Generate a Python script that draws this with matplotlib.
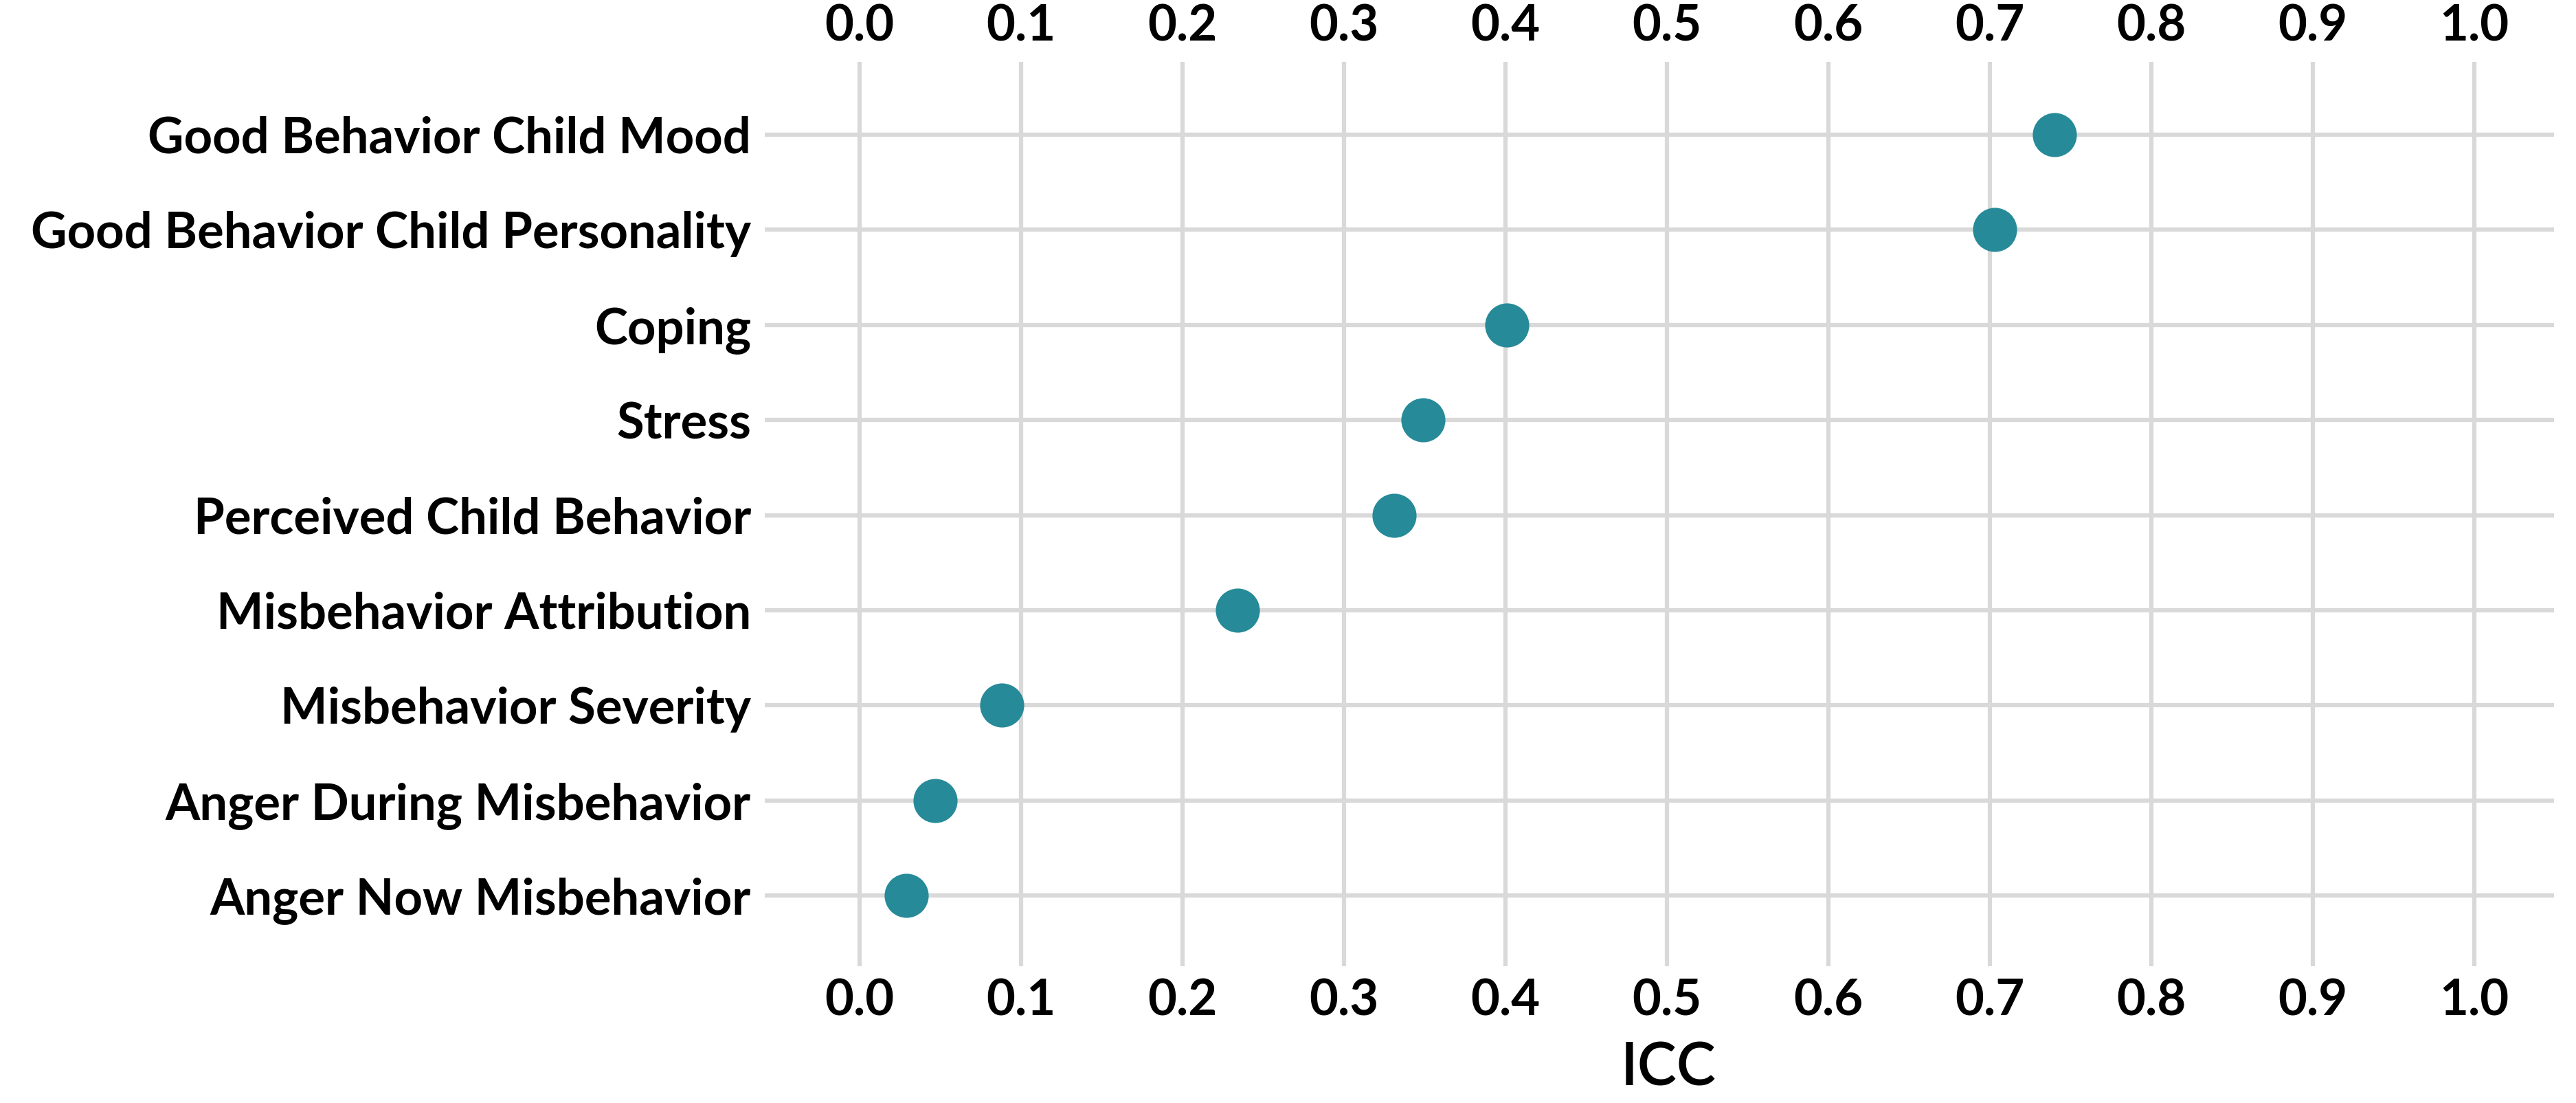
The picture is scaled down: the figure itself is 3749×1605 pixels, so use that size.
import matplotlib
matplotlib.use("Agg")
import matplotlib.pyplot as plt

categories = [
    "Anger Now Misbehavior",
    "Anger During Misbehavior",
    "Misbehavior Severity",
    "Misbehavior Attribution",
    "Perceived Child Behavior",
    "Stress",
    "Coping",
    "Good Behavior Child Personality",
    "Good Behavior Child Mood",
]
icc = [0.029, 0.047, 0.088, 0.234, 0.331, 0.349, 0.401, 0.703, 0.740]
xticks = [0.0, 0.1, 0.2, 0.3, 0.4, 0.5, 0.6, 0.7, 0.8, 0.9, 1.0]
xticklabels = ["0.0", "0.1", "0.2", "0.3", "0.4", "0.5", "0.6", "0.7", "0.8", "0.9", "1.0"]

W, H, DPI = 3749, 1605, 300
plt.rcParams['font.family'] = ['Lato', 'DejaVu Sans']
fig = plt.figure(figsize=(W / DPI, H / DPI), dpi=DPI)
fig.patch.set_facecolor('white')

L, R, T, B = 1113, 3717, 90, 1406
ax = fig.add_axes([L / W, 1 - B / H, (R - L) / W, (B - T) / H])

ypos = list(range(len(categories)))
ax.plot(icc, ypos, 'o', markersize=15.4, color='#268A98', markeredgewidth=0, zorder=3)

ax.set_xlim(-0.0587, 1.0494)
ax.set_ylim(-0.744, 8.766)
ax.set_xticks(xticks)
ax.set_xticklabels(xticklabels)
ax.set_yticks(ypos)
ax.set_yticklabels(categories)

for s in ax.spines.values():
    s.set_visible(False)
ax.grid(True, color='#D9D9D9', linewidth=1.5, zorder=0)
ax.set_axisbelow(True)
ax.tick_params(axis='both', length=0, labelsize=17.4, labelcolor='black')
ax.tick_params(axis='x', labeltop=True, labelbottom=True, top=False, bottom=False, pad=4.3)
ax.tick_params(axis='y', pad=4.8)
for lab in ax.get_xticklabels() + ax.get_yticklabels():
    lab.set_fontweight('bold')

fig.text(2428 / W, 1 - 1579 / H, "ICC", ha='center', va='baseline', fontsize=20.6, fontweight='semibold')

fig.savefig("out.png", dpi=DPI, facecolor='white')
